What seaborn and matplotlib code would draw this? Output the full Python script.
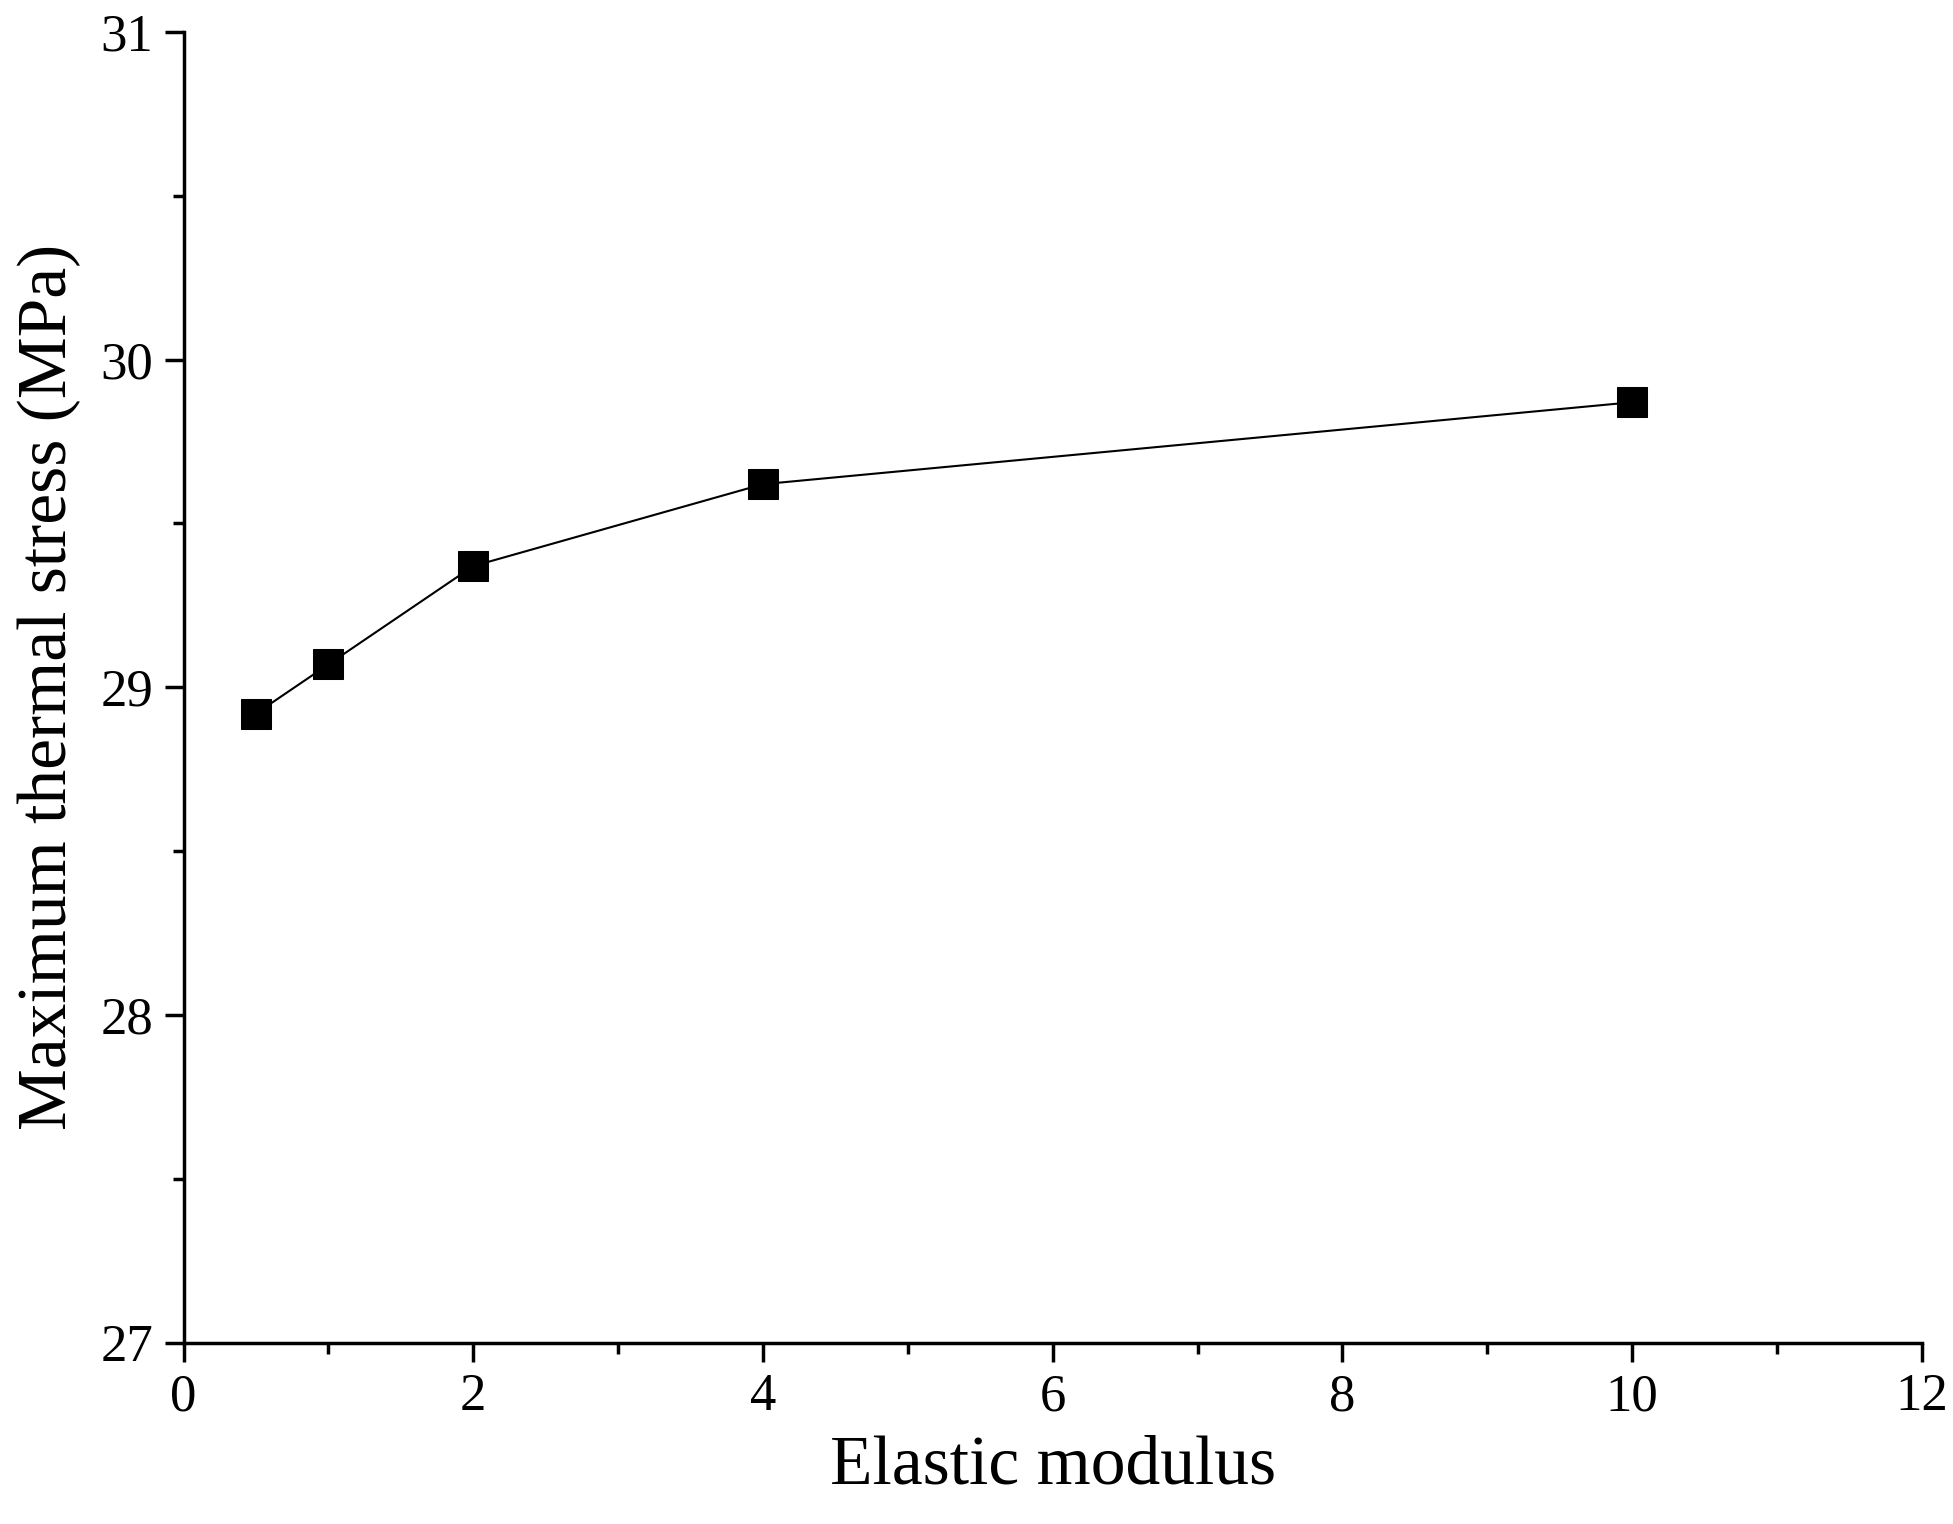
import matplotlib
matplotlib.use("Agg")
import matplotlib.pyplot as plt
import seaborn as sns
import pandas as pd
from matplotlib.ticker import MultipleLocator

# values
modulus = [0.5, 1, 2, 4, 10]
stress = [28.92, 29.07, 29.37, 29.62, 29.87]
df = pd.DataFrame({'modulus': modulus, 'stress': stress})

sns.set_style('ticks')
plt.rcParams['font.family'] = ['Liberation Serif', 'DejaVu Serif']
plt.rcParams['text.color'] = 'black'
plt.rcParams['axes.labelcolor'] = 'black'
plt.rcParams['xtick.color'] = 'black'
plt.rcParams['ytick.color'] = 'black'
plt.rcParams['axes.edgecolor'] = 'black'

fig = plt.figure(figsize=(19.53, 15.24), dpi=100)
ax = fig.add_axes([0.094, 0.119, 0.890, 0.860])
sns.lineplot(data=df, x='modulus', y='stress', ax=ax, color='black',
             linewidth=1.5, marker='s', markersize=22, markeredgecolor='black')

ax.set_xlim(0, 12)
ax.set_ylim(27, 31)
ax.xaxis.set_major_locator(MultipleLocator(2))
ax.xaxis.set_minor_locator(MultipleLocator(1))
ax.yaxis.set_major_locator(MultipleLocator(1))
ax.yaxis.set_minor_locator(MultipleLocator(0.5))
ax.tick_params(which='major', direction='out', length=14, width=2.5, labelsize=38, pad=8)
ax.tick_params(which='minor', direction='out', length=8, width=2.5)
for s in ['left', 'bottom']:
    ax.spines[s].set_linewidth(2.5)
sns.despine(ax=ax)
ax.set_xlabel('Elastic modulus', fontsize=50, labelpad=10)
ax.set_ylabel('Maximum thermal stress (MPa)', fontsize=50, labelpad=14)

fig.savefig('out.png', dpi=100)
